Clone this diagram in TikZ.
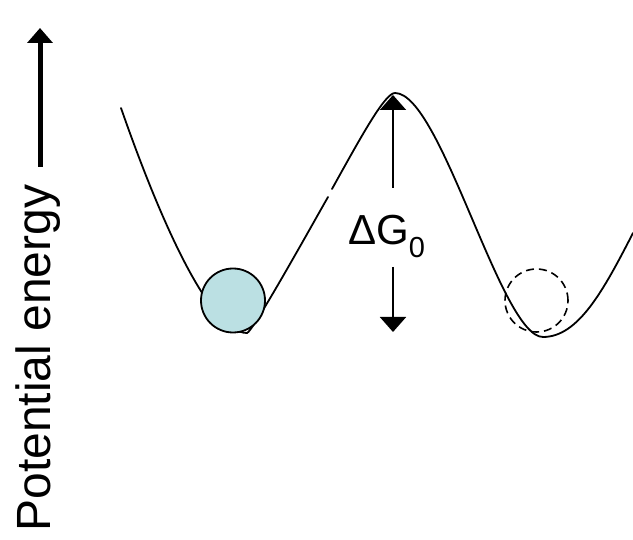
\documentclass[tikz,border=0pt]{standalone}
\usepackage{fontspec}
\setmainfont{Liberation Sans}
\usetikzlibrary{arrows.meta}
\definecolor{ballfill}{RGB}{187,224,227}
\tikzset{
  energycurve/.style={line width=1.8pt, line cap=round},
  ballstyle/.style={circle, draw, line width=1.8pt, fill=ballfill, minimum size=64pt, inner sep=0pt},
  ghoststyle/.style={circle, draw, line width=1.6pt, dash pattern=on 8pt off 5pt, minimum size=63pt, inner sep=0pt},
  barrierarrow/.style={line width=2pt, -{Triangle[width=26pt,length=15pt]}},
  axisarrow/.style={line width=5pt, -{Triangle[width=25pt,length=15pt]}},
  axislabel/.style={font=\fontsize{48}{48}\selectfont, rotate=90, anchor=base, inner sep=0pt},
  dglabel/.style={font=\fontsize{42}{42}\selectfont, anchor=base west, inner sep=0pt}
}
\begin{document}
\begin{tikzpicture}[x=1pt,y=-1pt]
\fill[white] (0,0) rectangle (633,540);
\useasboundingbox (0,0) rectangle (633,540);
% energy curve
\draw[energycurve] (121,108) .. controls (160,220) and (210,333) .. (247,333)
  .. controls (252,333) and (313,223.25) .. (328,197);
\draw[energycurve] (332,189) .. controls (361.7,135.5) and (385,93) .. (395,93)
  .. controls (441,93) and (501,337) .. (543,337)
  .. controls (578,337) and (603,291.5) .. (633,233);
% balls
\node[ballstyle] (ball) at (233,300.5) {};
\node[ghoststyle] (ghost) at (536.5,300.5) {};
% barrier height
\node[dglabel] (dg) at (348,245) {ΔG\raisebox{-13pt}{\fontsize{29}{29}\selectfont 0}};
\coordinate (dgtop) at (393,188);
\coordinate (dgbot) at (393,267);
\coordinate (peak) at (393,95);
\coordinate (well) at (393,332);
\draw[barrierarrow] (dgtop) -- (peak);
\draw[barrierarrow] (dgbot) -- (well);
% axis
\node[axislabel] (ylab) at (50,358) {Potential energy};
\coordinate (axs) at (40,167);
\coordinate (axe) at (40,28);
\draw[axisarrow] (axs) -- (axe);
\end{tikzpicture}
\end{document}
